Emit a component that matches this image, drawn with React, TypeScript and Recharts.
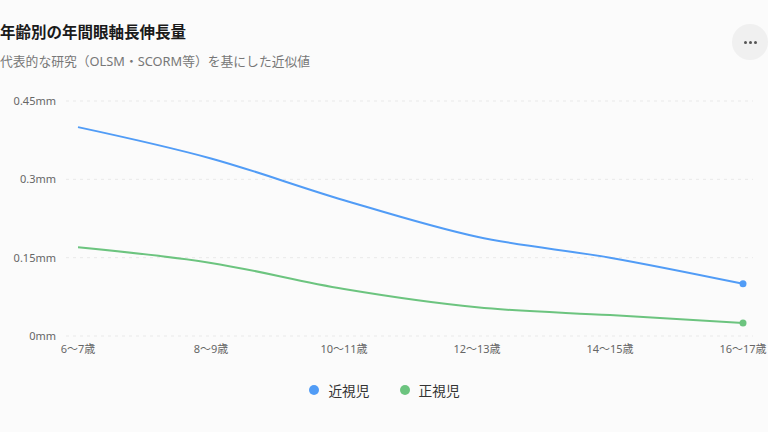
import React from "react";
import { LineChart, Line, XAxis, YAxis, CartesianGrid, Legend } from "recharts";

const categories = ["6〜7歳", "8〜9歳", "10〜11歳", "12〜13歳", "14〜15歳", "16〜17歳"];
const myopia = [0.4, 0.34, 0.26, 0.19, 0.15, 0.1];
const normal = [0.17, 0.14, 0.09, 0.055, 0.04, 0.025];
const yTicks = [0, 0.15, 0.3, 0.45];
const seriesNames = ["近視児", "正視児"];

const data = categories.map((c, i) => ({ name: c, myopia: myopia[i], normal: normal[i] }));

const FONT = "'Noto Sans', 'Noto Sans CJK JP', sans-serif";
const BLUE = "#519cf6";
const GREEN = "#6cc47f";
const colors = [BLUE, GREEN];

const lastDot = (color: string) => (props: any) => {
  const { cx, cy, index } = props;
  if (index !== categories.length - 1) return <g key={index} />;
  return <circle key={index} cx={cx} cy={cy} r={3.5} fill={color} stroke="none" />;
};

const fmt = (v: number) => `${v}mm`;

const renderLegend = () => (
  <div style={{ display: "flex", justifyContent: "center", alignItems: "center", fontSize: 13.7, color: "#333", fontFamily: FONT, paddingLeft: 16 }}>
    {seriesNames.map((n, i) => (
      <div key={n} style={{ display: "flex", alignItems: "center", margin: "0 15px" }}>
        <span style={{ width: 10, height: 10, borderRadius: 5, background: colors[i], display: "inline-block", marginRight: 9 }} />
        <span>{n}</span>
      </div>
    ))}
  </div>
);

export default function App() {
  return (
    <div
      style={{
        position: "absolute",
        left: 0,
        top: 0,
        width: 768,
        height: 432,
        background: "#fbfbfb",
        fontFamily: FONT,
        overflow: "hidden",
      }}
    >
      <div style={{ position: "absolute", left: 0, top: 20, fontSize: 15.5, fontWeight: 700, color: "#1a1a1a", lineHeight: "24px" }}>
        年齢別の年間眼軸長伸長量
      </div>
      <div style={{ position: "absolute", left: 0, top: 51, fontSize: 12.8, color: "#777", lineHeight: "20px" }}>
        代表的な研究（OLSM・SCORM等）を基にした近似値
      </div>
      <div
        style={{
          position: "absolute",
          left: 732,
          top: 24,
          width: 36,
          height: 36,
          borderRadius: 18,
          background: "#f0f0f0",
          display: "flex",
          justifyContent: "center",
          alignItems: "center",
          gap: 2,
        }}
      >
        {[0, 1, 2].map((k) => (
          <span key={k} style={{ width: 3, height: 3, borderRadius: 1.5, background: "#555", display: "inline-block" }} />
        ))}
      </div>
      <div style={{ position: "absolute", left: 0, top: 90 }}>
        <LineChart width={768} height={320} data={data} margin={{ top: 11, right: 15, bottom: 10, left: 0 }}>
          <CartesianGrid vertical={false} stroke="#e9e9e9" strokeDasharray="3 4" />
          <XAxis
            dataKey="name"
            axisLine={false}
            tickLine={false}
            tickSize={0}
            tickMargin={9}
            padding={{ left: 12, right: 10 }}
            height={44}
            interval={0}
            tick={{ fontSize: 11, fill: "#666", fontFamily: FONT }}
          />
          <YAxis
            width={66}
            domain={[0, 0.45]}
            ticks={yTicks}
            tickFormatter={fmt}
            axisLine={false}
            tickLine={false}
            tickSize={0}
            tickMargin={10}
            tick={{ fontSize: 11, fill: "#666", fontFamily: FONT }}
          />
          <Legend verticalAlign="bottom" content={renderLegend} />
          <Line
            type="monotone"
            dataKey="myopia"
            name="近視児"
            stroke={BLUE}
            strokeWidth={2}
            dot={lastDot(BLUE)}
            activeDot={false}
            isAnimationActive={false}
          />
          <Line
            type="monotone"
            dataKey="normal"
            name="正視児"
            stroke={GREEN}
            strokeWidth={2}
            dot={lastDot(GREEN)}
            activeDot={false}
            isAnimationActive={false}
          />
        </LineChart>
      </div>
    </div>
  );
}
